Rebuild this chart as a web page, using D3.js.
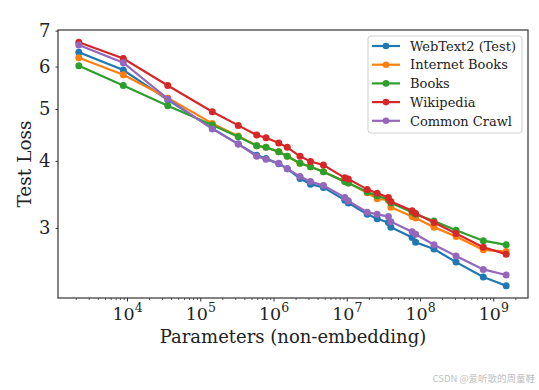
<!DOCTYPE html>
<html>
<head>
<meta charset="utf-8">
<script src="https://cdn.jsdelivr.net/npm/d3@7/dist/d3.min.js"></script>
<style>
    body { margin: 0; background: #fff; }
    svg { display: block; }
    text { font-family: "DejaVu Serif", serif; fill: #222; }
</style>
</head>
<body>
<svg id="chart" width="539" height="390"></svg>
<script>
// model sizes (non-embedding parameters)
var params = [2.2e3, 8.9e3, 3.6e4, 1.46e5, 3.3e5, 5.9e5, 7.9e5, 1.18e6, 1.54e6, 2.3e6, 3.2e6, 4.8e6,
              9.4e6, 1.05e7, 1.9e7, 2.6e7, 3.7e7, 4.0e7, 7.8e7, 8.7e7, 1.55e8, 3.1e8, 7.3e8, 1.5e9];

var webtext2 = [6.38, 5.91, 5.20, 4.60, 4.30, 4.10, 4.04, 3.95, 3.87, 3.71, 3.62, 3.57,
                3.38, 3.34, 3.18, 3.12, 3.07, 3.01, 2.88, 2.82, 2.74, 2.59, 2.43, 2.34];
var internetBooks = [6.23, 5.79, 5.24, 4.70, 4.45, 4.27, 4.24, 4.16, 4.08, 3.96, 3.90, 3.82,
                     3.66, 3.64, 3.49, 3.40, 3.38, 3.28, 3.15, 3.13, 3.01, 2.89, 2.73, 2.71];
var books = [6.02, 5.53, 5.07, 4.67, 4.44, 4.27, 4.24, 4.16, 4.08, 3.96, 3.90, 3.82,
             3.66, 3.64, 3.50, 3.44, 3.39, 3.34, 3.21, 3.18, 3.09, 2.97, 2.84, 2.79];
var wikipedia = [6.66, 6.21, 5.53, 4.94, 4.66, 4.47, 4.42, 4.32, 4.24, 4.08, 3.99, 3.93,
                 3.72, 3.70, 3.54, 3.48, 3.42, 3.36, 3.23, 3.19, 3.07, 2.93, 2.76, 2.68];
var commonCrawl = [6.58, 6.10, 5.22, 4.59, 4.30, 4.08, 4.03, 3.96, 3.87, 3.74, 3.66, 3.60,
                   3.42, 3.37, 3.21, 3.18, 3.15, 3.08, 2.95, 2.92, 2.79, 2.66, 2.51, 2.45];

var seriesNames = ["WebText2 (Test)", "Internet Books", "Books", "Wikipedia", "Common Crawl"];
var seriesValues = [webtext2, internetBooks, books, wikipedia, commonCrawl];
var colors = ["#1f77b4", "#ff7f0e", "#2ca02c", "#d62728", "#9467bd"];

var xMajorTicks = [1e4, 1e5, 1e6, 1e7, 1e8, 1e9];
var xTickExponents = ["4", "5", "6", "7", "8", "9"];
var yTicks = [3, 4, 5, 6, 7];

var margin = {left: 58, top: 30, right: 528, bottom: 298};

var svg = d3.select("#chart");

var x = d3.scaleLog()
    .domain([Math.pow(10, 3.058), Math.pow(10, 9.474)])
    .range([margin.left, margin.right]);

var y = d3.scaleLog()
    .domain([2.22, 7.02])
    .range([margin.bottom, margin.top]);

// minor ticks 2..9 x 10^k inside the domain
var xMinorTicks = [];
for (var e = 3; e <= 9; e++)
{
    for (var k = 2; k <= 9; k++)
    {
        var v = k * Math.pow(10, e);
        if (v > x.domain()[0] && v < x.domain()[1]) xMinorTicks.push(v);
    }
}

// x axis - minor
svg.append("g")
    .attr("transform", "translate(0," + margin.bottom + ")")
    .call(d3.axisBottom(x).tickValues(xMinorTicks).tickSize(2).tickFormat(""))
    .call(function (g) { g.select(".domain").remove(); })
    .selectAll("line").attr("stroke", "#333").attr("stroke-width", 0.8);

// x axis - major
var xAxis = svg.append("g")
    .attr("transform", "translate(0," + margin.bottom + ")")
    .call(d3.axisBottom(x).tickValues(xMajorTicks).tickSize(3.5).tickFormat(""));
xAxis.select(".domain").remove();
xAxis.selectAll("line").attr("stroke", "#333").attr("stroke-width", 1);

xAxis.selectAll(".tick").each(function (d, i)
{
    var t = d3.select(this).append("text")
        .attr("y", 22)
        .attr("text-anchor", "middle")
        .style("font-size", "17.5px")
        .attr("fill", "#222");
    t.append("tspan").text("10");
    t.append("tspan")
        .attr("dy", -8)
        .style("font-size", "12.5px")
        .text(xTickExponents[i]);
});

// y axis
var yAxis = svg.append("g")
    .attr("transform", "translate(" + margin.left + ",0)")
    .call(d3.axisLeft(y).tickValues(yTicks).tickSize(2.5).tickPadding(5).tickFormat(d3.format("d")));
yAxis.select(".domain").remove();
yAxis.selectAll("line").attr("stroke", "#333");
yAxis.selectAll("text")
    .style("font-size", "18px")
    .attr("fill", "#222");

// lines
var line = d3.line()
    .x(function (d) { return x(d[0]); })
    .y(function (d) { return y(d[1]); });

seriesValues.forEach(function (vals, s)
{
    var pts = params.map(function (p, i) { return [p, vals[i]]; });

    svg.append("path")
        .datum(pts)
        .attr("d", line)
        .attr("fill", "none")
        .attr("stroke", colors[s])
        .attr("stroke-width", 2.2);

    svg.append("g").selectAll("circle")
        .data(pts)
        .enter().append("circle")
        .attr("cx", function (d) { return x(d[0]); })
        .attr("cy", function (d) { return y(d[1]); })
        .attr("r", 3.5)
        .attr("fill", colors[s]);
});

// frame
svg.append("rect")
    .attr("x", margin.left)
    .attr("y", margin.top)
    .attr("width", margin.right - margin.left)
    .attr("height", margin.bottom - margin.top)
    .attr("fill", "none")
    .attr("stroke", "#333")
    .attr("stroke-width", 1.2);

// legend
var legend = svg.append("g").attr("transform", "translate(368,36)");

legend.append("rect")
    .attr("width", 154)
    .attr("height", 97)
    .attr("rx", 3)
    .attr("fill", "#fff")
    .attr("fill-opacity", 0.8)
    .attr("stroke", "#d0d0d0");

var rows = legend.selectAll(".row")
    .data(seriesNames)
    .enter().append("g")
    .attr("class", "row")
    .attr("transform", function (d, i) { return "translate(0," + (10 + i * 18.7) + ")"; });

rows.append("line")
    .attr("x1", 4).attr("x2", 32)
    .attr("stroke", function (d, i) { return colors[i]; })
    .attr("stroke-width", 2.2);

rows.append("circle")
    .attr("cx", 18)
    .attr("r", 3.3)
    .attr("fill", function (d, i) { return colors[i]; });

rows.append("text")
    .attr("x", 42)
    .attr("y", 4.7)
    .style("font-size", "13px")
    .text(function (d) { return d; });

// axis titles
svg.append("text")
    .attr("x", (margin.left + margin.right) / 2)
    .attr("y", 343)
    .attr("text-anchor", "middle")
    .style("font-size", "18px")
    .text("Parameters (non-embedding)");

svg.append("text")
    .attr("transform", "translate(31," + ((margin.top + margin.bottom) / 2) + ") rotate(-90)")
    .attr("text-anchor", "middle")
    .style("font-size", "18.5px")
    .text("Test Loss");

// watermark
svg.append("text")
    .attr("x", 535)
    .attr("y", 382)
    .attr("text-anchor", "end")
    .style("font-family", "'Noto Sans CJK SC', sans-serif")
    .style("font-size", "9.5px")
    .style("fill", "#c0c0c0")
    .text("CSDN @爱听歌的周童鞋");
</script>
</body>
</html>
